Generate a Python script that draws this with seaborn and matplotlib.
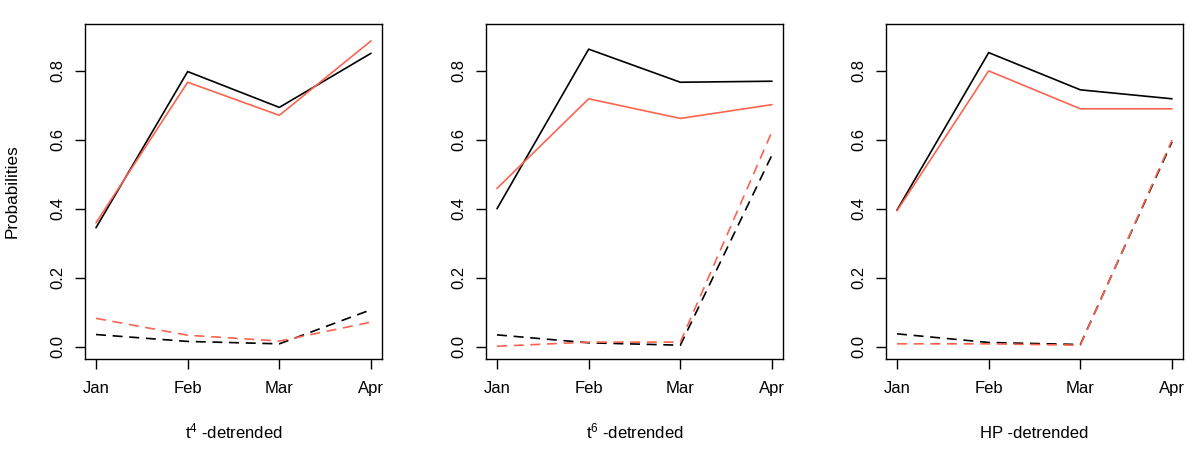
import matplotlib
matplotlib.use("Agg")
import matplotlib.pyplot as plt
import seaborn as sns
import pandas as pd

months = ["Jan", "Feb", "Mar", "Apr"]
panel_titles = ["t$^4$ -detrended", "t$^6$ -detrended", "HP -detrended"]

# panel 1: t^4
p1_black_solid = [0.345, 0.798, 0.694, 0.851]
p1_red_solid = [0.359, 0.767, 0.671, 0.887]
p1_black_dashed = [0.035, 0.015, 0.008, 0.107]
p1_red_dashed = [0.082, 0.033, 0.016, 0.071]
# panel 2: t^6
p2_black_solid = [0.400, 0.863, 0.767, 0.770]
p2_red_solid = [0.459, 0.719, 0.662, 0.702]
p2_black_dashed = [0.034, 0.011, 0.004, 0.556]
p2_red_dashed = [0.001, 0.013, 0.013, 0.624]
# panel 3: HP
p3_black_solid = [0.396, 0.853, 0.745, 0.719]
p3_red_solid = [0.394, 0.800, 0.690, 0.690]
p3_black_dashed = [0.037, 0.012, 0.006, 0.594]
p3_red_dashed = [0.008, 0.008, 0.004, 0.599]

panels = [
    (p1_black_solid, p1_red_solid, p1_black_dashed, p1_red_dashed),
    (p2_black_solid, p2_red_solid, p2_black_dashed, p2_red_dashed),
    (p3_black_solid, p3_red_solid, p3_black_dashed, p3_red_dashed),
]

sns.set_theme(style="white")
plt.rcParams["font.family"] = ["Liberation Sans", "DejaVu Sans"]
plt.rcParams["mathtext.fontset"] = "custom"
plt.rcParams["mathtext.rm"] = "Liberation Sans"
plt.rcParams["mathtext.it"] = "Liberation Sans"

RED = "#FA6450"
fig = plt.figure(figsize=(11.96, 4.53), dpi=100)
lefts = [85, 486, 886]
for i, (vals, title) in enumerate(zip(panels, panel_titles)):
    ax = fig.add_axes([lefts[i] / 1196, 1 - 359 / 453, 297 / 1196, 335 / 453])
    rows = []
    names = [("black", "solid"), ("red", "solid"), ("black", "dashed"), ("red", "dashed")]
    for (col, sty), series in zip(names, vals):
        for m, v in zip(months, series):
            rows.append({"month": m, "p": v, "model": col, "kind": sty})
    df = pd.DataFrame(rows)
    sns.lineplot(data=df, x="month", y="p", hue="model", style="kind",
                 palette={"black": "black", "red": RED},
                 dashes={"solid": "", "dashed": (6, 4)},
                 hue_order=["black", "red"], style_order=["solid", "dashed"],
                 linewidth=1.2, legend=False, ax=ax, sort=False)
    ax.set_xlim(-0.12, 3.12)
    ax.set_ylim(-0.036, 0.936)
    ax.set_yticks([0.0, 0.2, 0.4, 0.6, 0.8])
    ax.set_yticklabels(["0.0", "0.2", "0.4", "0.6", "0.8"], rotation=90, va="center")
    ax.set_xticks(range(4))
    ax.set_xticklabels(months)
    for s in ax.spines.values():
        s.set_visible(True)
        s.set_color("black")
        s.set_linewidth(1.0)
    ax.tick_params(axis="both", direction="out", length=7, width=1.0, color="black",
                   labelsize=12, labelcolor="black", bottom=True, left=True)
    ax.tick_params(axis="x", pad=9)
    ax.tick_params(axis="y", pad=7)
    ax.set_xlabel(title, fontsize=12, color="black")
    ax.xaxis.label.set_va("baseline")
    ax.xaxis.set_label_coords(0.5, -0.236)
    if i == 0:
        ax.set_ylabel("Probabilities", fontsize=12.3, color="black", labelpad=22)
    else:
        ax.set_ylabel("")
    ax.grid(False)

fig.savefig("out.png", dpi=100, facecolor="white")
